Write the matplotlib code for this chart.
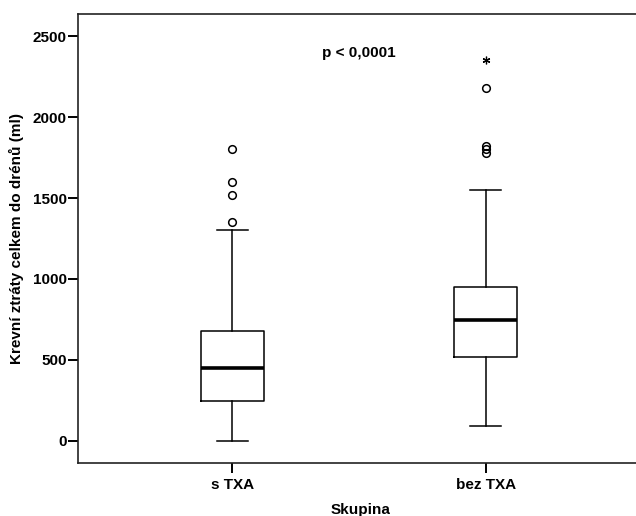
import matplotlib.pyplot as plt

plt.rcParams['font.family'] = ['Liberation Sans', 'DejaVu Sans']
plt.rcParams['font.weight'] = 'bold'

# Skupiny a popisné statistiky
groups = ["s TXA", "bez TXA"]
q1 = [245, 520]
median = [450, 745]
q3 = [681, 950]
whisker_low = [0, 90]
whisker_high = [1300, 1550]
outliers = [[1350, 1520, 1600, 1800], [1780, 1800, 1820, 2180]]
extremes = [[], [2350]]

yticks = [0, 500, 1000, 1500, 2000, 2500]
ylabel = "Krevní ztráty celkem do drénů (ml)"
xlabel = "Skupina"
p_text = "p < 0,0001"

stats = []
for i, g in enumerate(groups):
    stats.append({
        "label": g,
        "q1": q1[i],
        "med": median[i],
        "q3": q3[i],
        "whislo": whisker_low[i],
        "whishi": whisker_high[i],
        "fliers": outliers[i],
    })

fig = plt.figure(figsize=(6.36, 5.16), dpi=100)
ax = fig.add_axes([78 / 636, 53 / 516, 562 / 636, 449 / 516])

line = dict(color="black", linewidth=1.1)
ax.bxp(
    stats,
    positions=[1, 2],
    widths=0.25,
    boxprops=line,
    whiskerprops=line,
    capprops=line,
    capwidths=0.125,
    medianprops=dict(color="black", linewidth=2.6),
    flierprops=dict(marker="o", markerfacecolor="none", markeredgecolor="black",
                    markersize=5.5, markeredgewidth=1.1),
)

# extrémní hodnoty jako hvězdička
for i, ext in enumerate(extremes):
    if ext:
        ax.plot([i + 1] * len(ext), ext, linestyle="none", marker=(6, 2, 0),
                color="black", markersize=5.5, markeredgewidth=0.9)

ax.set_xlim(0.39, 2.61)
ax.set_ylim(-136, 2636)
ax.set_yticks(yticks)
ax.set_xticks([1, 2])
ax.set_xticklabels(groups)

for s in ["left", "bottom", "top"]:
    ax.spines[s].set_linewidth(1.2)
    ax.spines[s].set_color("#222222")
ax.spines["right"].set_visible(False)

ax.tick_params(axis="both", direction="out", length=7.5, width=1.4,
               labelsize=11, color="black")
ax.tick_params(axis="y", pad=0.5)
ax.tick_params(axis="x", pad=3)

ax.set_ylabel(ylabel, fontsize=11, fontweight="bold")
ax.yaxis.set_label_coords(-0.109, 0.5)
ax.yaxis.label.set_va("center")
ax.set_xlabel(xlabel, fontsize=11, fontweight="bold")
ax.xaxis.set_label_coords(0.502, -0.105)
ax.xaxis.label.set_va("center")

ax.text(1.5, 2395, p_text, ha="center", va="center", fontsize=11,
        fontweight="bold")

fig.savefig("out.png", dpi=100)
